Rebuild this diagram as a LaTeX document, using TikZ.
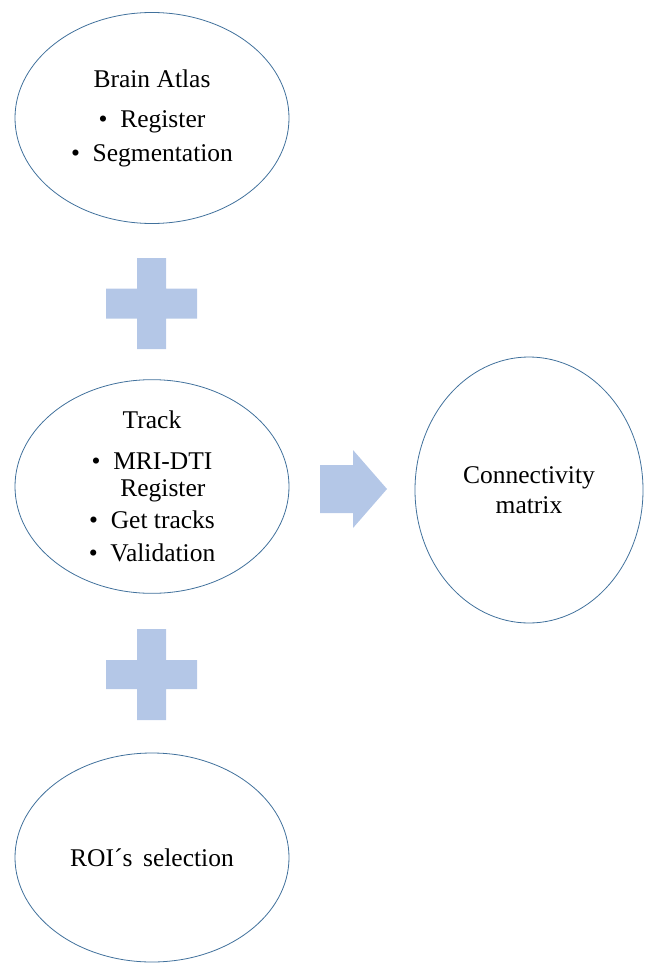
\documentclass[tikz,border=0pt]{standalone}
\usepackage{fontspec}
\setmainfont{Liberation Serif}
\usetikzlibrary{shapes.geometric}
\definecolor{rimblue}{RGB}{65,113,156}
\definecolor{plusblue}{RGB}{180,199,231}

\begin{document}
\begin{tikzpicture}[x=1pt,y=-1pt,
	stage/.style={ellipse, draw=rimblue, line width=0.8pt, fill=white, inner sep=0pt,
		align=center, font=\fontsize{25.5}{27}\selectfont},
	plussign/.style={fill=plusblue}]
	\useasboundingbox (0,0) rectangle (645,963);
	
	\coordinate (P1) at (151.5,303.5);
	\coordinate (P2) at (151.5,674.5);
	
	\node[stage, minimum width=274pt, minimum height=211pt] (atlas) at (152,118)
		{Brain Atlas\\[13pt]
		 \textbullet\hspace{0.5em}Register\\[7pt]
		 \textbullet\hspace{0.5em}Segmentation};
	\node[stage, minimum width=274pt, minimum height=207pt] (track) at (152,486.5)
		{Track\\[14pt]
		 \textbullet\hspace{0.5em}MRI-DTI\\
		 \phantom{\textbullet\hspace{0.5em}}Register\\[5pt]
		 \textbullet\hspace{0.5em}Get tracks\\[6pt]
		 \textbullet\hspace{0.5em}Validation};
	\node[stage, minimum width=228pt, minimum height=266pt] (matrix) at (529,490)
		{Connectivity\\[3pt] matrix};
	\node[stage, minimum width=274pt, minimum height=209pt] (roi) at (152,857.5)
		{ROI\textasciiacute s\, selection};
	
	% plus signs
	\fill[plussign, shift={(P1)}] (-45.5,-15) rectangle (45.5,15) (-14.5,-45.5) rectangle (14.5,45.5);
	\fill[plussign, shift={(P2)}] (-45.5,-14.5) rectangle (45.5,14.5) (-14.5,-45.5) rectangle (14.5,45.5);
	
	% block arrow
	\fill[plussign] (320,465) -- (353,465) -- (353,450) -- (387,489) -- (353,528) -- (353,513) -- (320,513) -- cycle;
\end{tikzpicture}
\end{document}
